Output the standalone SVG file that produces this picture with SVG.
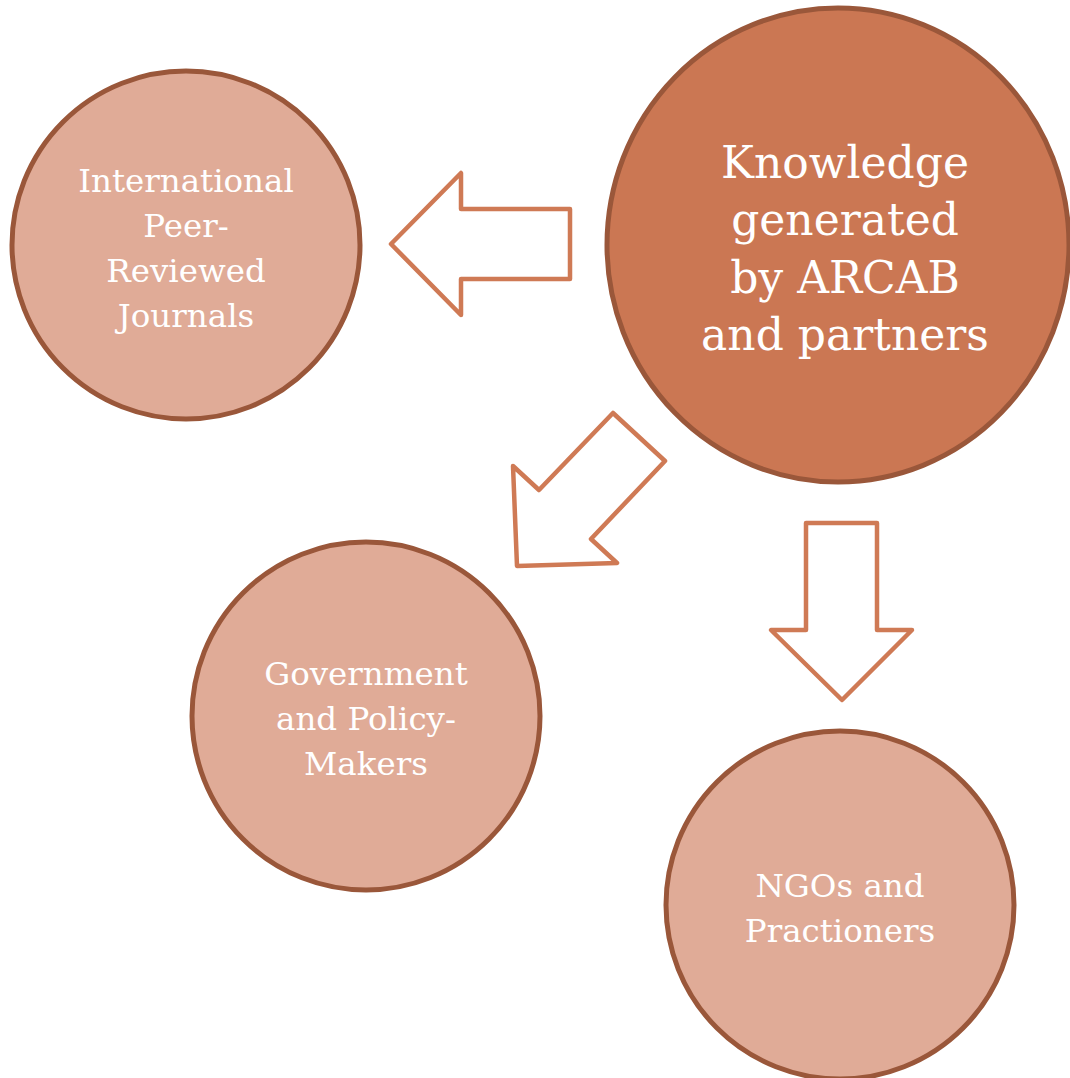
<svg xmlns="http://www.w3.org/2000/svg" width="1070" height="1078" viewBox="0 0 1070 1078">
<style>
.sm{fill:#e0ab97;stroke:#9a573a;stroke-width:5}
.big{fill:#cb7753;stroke:#9a573a;stroke-width:5}
.arr{fill:#ffffff;stroke:#cf7a55;stroke-width:4.5;stroke-linejoin:round}
.t{fill:#ffffff;font-family:"DejaVu Serif","Liberation Serif",serif;text-anchor:middle}
.ts{font-size:32.5px}
.tb{font-size:44px}
</style>
<rect width="1070" height="1078" fill="#ffffff"/>
<g id="connectors">
<polygon class="arr" points="391,244 461,173 461,209 570,209 570,279 461,279 461,315"/>
<polygon class="arr" points="613,413 665,461 591,539 617,563 517,566 513,466 539,490"/>
<polygon class="arr" points="806,523 877,523 877,630 912,630 842,700 771,630 806,630"/>
</g>
<g id="knowledge">
<ellipse class="big" cx="838" cy="245" rx="231" ry="237"/>
<text class="t tb" x="845" y="178">Knowledge</text>
<text class="t tb" x="845" y="235">generated</text>
<text class="t tb" x="845" y="293">by ARCAB</text>
<text class="t tb" x="845" y="350">and partners</text>
</g>
<g id="journals">
<circle class="sm" cx="186" cy="245" r="174"/>
<text class="t ts" x="186" y="192">International</text>
<text class="t ts" x="186" y="237">Peer-</text>
<text class="t ts" x="186" y="282">Reviewed</text>
<text class="t ts" x="186" y="327">Journals</text>
</g>
<g id="government">
<circle class="sm" cx="366" cy="716" r="174"/>
<text class="t ts" x="366" y="685">Government</text>
<text class="t ts" x="366" y="730">and Policy-</text>
<text class="t ts" x="366" y="775">Makers</text>
</g>
<g id="ngos">
<circle class="sm" cx="840" cy="905" r="174"/>
<text class="t ts" x="840" y="897">NGOs and</text>
<text class="t ts" x="840" y="942">Practioners</text>
</g>
</svg>
